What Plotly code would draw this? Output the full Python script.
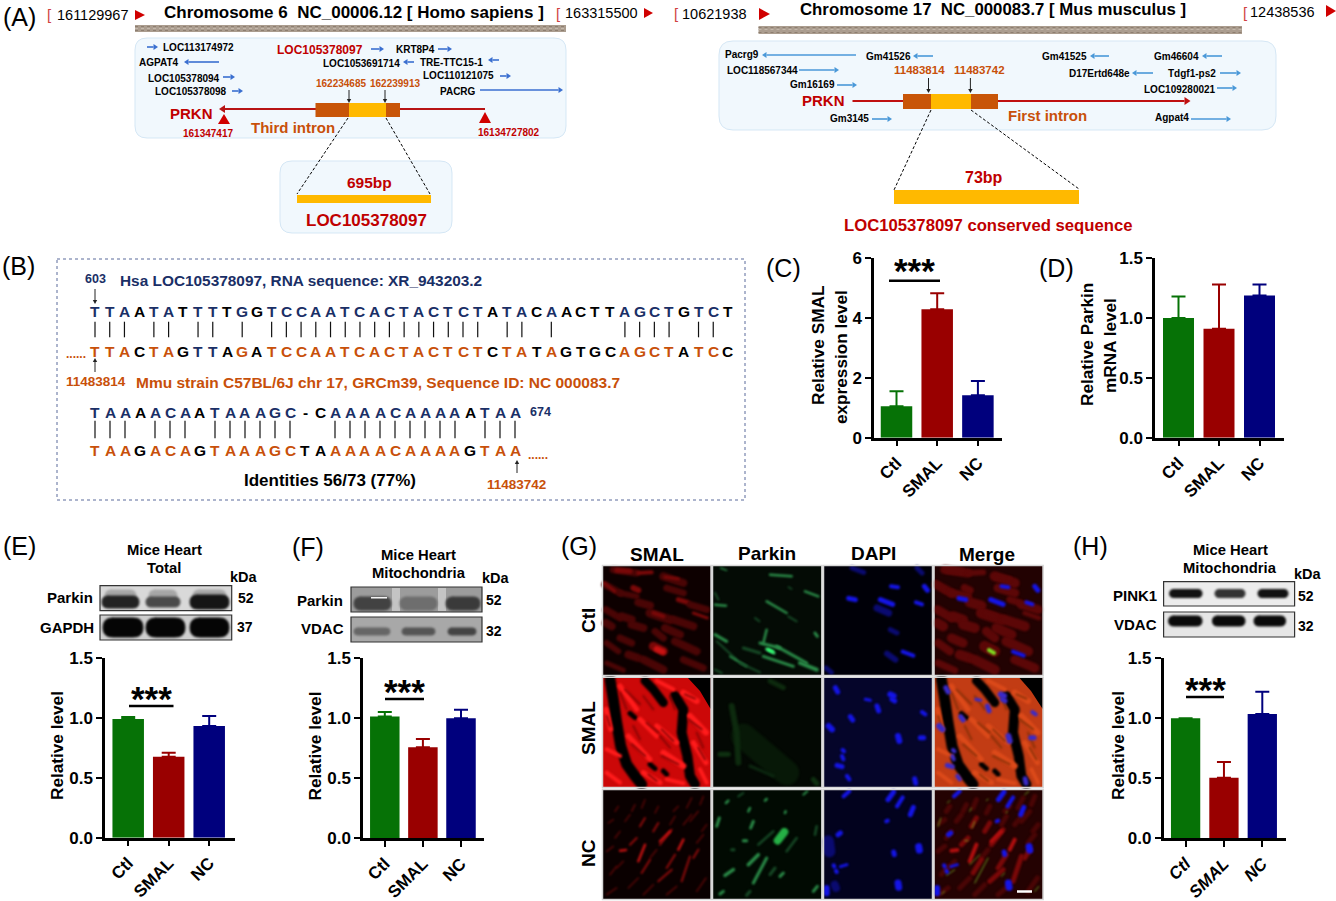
import json
import plotly.graph_objects as go

W, H = 1336, 901
FONT = "Liberation Sans"
GREEN, RED, NAVY = "#067206", "#990000", "#00007d"
DKRED, ORANGE, BLOCK, GOLD = "#c00000", "#c8500a", "#c85508", "#ffb900"
BLUE1, BLUE2, TXTNAVY = "#3a6fd0", "#4a98d8", "#1a2f66"

# ---------- bar chart data ----------
categories = ["Ctl", "SMAL", "NC"]
c_values = [1.05, 4.30, 1.42]
c_errors = [0.50, 0.53, 0.48]
d_values = [1.00, 0.91, 1.19]
d_errors = [0.18, 0.37, 0.09]
e_values = [0.99, 0.675, 0.93]
e_errors = [0.015, 0.033, 0.085]
f_values = [1.015, 0.758, 1.00]
f_errors = [0.038, 0.07, 0.072]
h_values = [1.00, 0.505, 1.035]
h_errors = [0.0, 0.13, 0.187]
bar_colors = [GREEN, RED, NAVY]
ticks_c = [0, 2, 4, 6]
ticks_rel = [0.0, 0.5, 1.0, 1.5]

# ---------- sequence alignment ----------
seq1_top = "TTAATATTTTGGTCCAATCACTACTCTATACAACTTAGCTGTCT"
seq1_bot = "TTACTAGTTAGATCCAATCACTACTCTCTATAGTGCAGCTATCC"
seq2_top = "TAAAACAATAAAGC-CAAAACAAAAATAA"
seq2_bot = "TAAGACAGTAAAGCTAAAAACAAAAGTAA"

# ---------- gene neighbourhood labels: text, x0, x1, y, arrow x0, arrow x1, arrow y ----------
genes_h = [
    ("LOC113174972", 162, 234, 48, 147, 158, 47),
    ("KRT8P4", 396, 434, 50, 438, 452, 49),
    ("AGPAT4", 139, 179, 62, 219, 184, 62),
    ("LOC1053691714", 322, 401, 63, 414, 403, 62),
    ("TRE-TTC15-1", 420, 483, 62, 499, 488, 60),
    ("LOC105378094", 148, 220, 78, 223, 235, 77),
    ("LOC110121075", 422, 494, 76, 500, 511, 76),
    ("LOC105378098", 155, 227, 92, 232, 243, 91),
    ("PACRG", 440, 476, 92, 480, 563, 90),
]
genes_m = [
    ("Pacrg9", 725, 758, 54, 856, 762, 55),
    ("Gm41526", 866, 910, 56, 933, 913, 56),
    ("Gm41525", 1042, 1086, 56, 1109, 1090, 56),
    ("Gm46604", 1154, 1199, 57, 1222, 1202, 56),
    ("LOC118567344", 727, 798, 70, 799, 839, 70),
    ("D17Ertd648e", 1070, 1129, 73, 1153, 1132, 73),
    ("Tdgf1-ps2", 1168, 1216, 73, 1220, 1241, 73),
    ("Gm16169", 790, 834, 85, 837, 857, 85),
    ("LOC109280021", 1144, 1215, 89, 1217, 1237, 88),
    ("Gm3145", 830, 869, 119, 872, 892, 119),
    ("Agpat4", 1155, 1188, 118, 1191, 1231, 119),
]

shapes, annos, soft = [], [], []


def X(x):
    return x / W


def Y(y):
    return 1 - y / H


def T(x, y, text, size, color="black", bold=True, anchor="center", angle=0, style="normal"):
    annos.append(dict(x=X(x), y=Y(y), xref="paper", yref="paper", text=text, showarrow=False,
                      xanchor=anchor, yanchor="middle", textangle=angle, align="center",
                      font=dict(family=FONT, size=size, color=color, style=style,
                                weight="bold" if bold else "normal")))


def line(x0, y0, x1, y1, color="black", width=1.0, dash=None):
    shapes.append(dict(type="line", xref="paper", yref="paper", x0=X(x0), y0=Y(y0), x1=X(x1), y1=Y(y1),
                       line=dict(color=color, width=width, dash=dash)))


def rect(x0, y0, x1, y1, fill, border=None, bw=0):
    shapes.append(dict(type="rect", xref="paper", yref="paper", x0=X(x0), y0=Y(y0), x1=X(x1), y1=Y(y1),
                       fillcolor=fill, line=dict(color=border or fill, width=bw)))


def poly(pts, fill):
    p = "M" + " L".join(f"{X(a):.5f},{Y(b):.5f}" for a, b in pts) + " Z"
    shapes.append(dict(type="path", xref="paper", yref="paper", path=p, fillcolor=fill, line=dict(width=0)))


def pline(pts, color, width):
    p = "M" + " L".join(f"{X(a):.5f},{Y(b):.5f}" for a, b in pts)
    soft.append(len(shapes))
    shapes.append(dict(type="path", xref="paper", yref="paper", path=p, line=dict(color=color, width=width)))


def rbox(x0, y0, x1, y1, r, fill, border, op=1.0):
    def f(a, b):
        return f"{X(a):.5f},{Y(b):.5f}"
    p = (f"M{f(x0+r,y0)} L{f(x1-r,y0)} Q{f(x1,y0)} {f(x1,y0+r)} L{f(x1,y1-r)} Q{f(x1,y1)} {f(x1-r,y1)} "
         f"L{f(x0+r,y1)} Q{f(x0,y1)} {f(x0,y1-r)} L{f(x0,y0+r)} Q{f(x0,y0)} {f(x0+r,y0)} Z")
    shapes.append(dict(type="path", xref="paper", yref="paper", path=p, fillcolor=fill, opacity=op,
                       line=dict(color=border, width=1)))


def band(x0, y0, x1, y1, fill, op=1.0):
    soft.append(len(shapes))
    rbox(x0, y0, x1, y1, (y1 - y0) / 2, fill, fill, op)


def harrow(x0, x1, y, color, width=1.6, head=4.5):
    d = 1 if x1 > x0 else -1
    line(x0, y, x1 - d * head, y, color, width)
    poly([(x1, y), (x1 - d * head, y - head * 0.65), (x1 - d * head, y + head * 0.65)], color)


def varrow(x, y0, y1, color="#222", width=1.0, head=4):
    d = 1 if y1 > y0 else -1
    line(x, y0, x, y1 - d * head, color, width)
    poly([(x, y1), (x - 2.2, y1 - d * head), (x + 2.2, y1 - d * head)], color)


def tri_right(x0, x1, y, h=5):
    poly([(x0, y - h), (x0, y + h), (x1, y)], "#d00000")


def speckle(x0, x1, y0, y1):
    rect(x0, y0, x1, y1, "#ab9d8f")
    for yy, col in ((y0 + 1.5, "#8d7e70"), (y0 + 3.5, "#c4b8ac"), (y1 - 1.5, "#8d7e70")):
        line(x0, yy, x1, yy, col, 1.2, "dot")


DASH = "3px,2px"
# ================== panel A left ==================
T(19, 17, "(A)", 25, bold=False)
T(50, 15, "[", 15, "#d04040", bold=False)
T(92.5, 15, "161129967", 14.5, bold=False)
tri_right(135, 145, 15)
T(354, 12, "Chromosome 6  NC_00006.12 [ Homo sapiens ]", 17)
T(558, 14, "[", 15, "#d04040", bold=False)
T(601, 13, "163315500", 14.5, bold=False)
tri_right(644, 653, 13)
speckle(135, 566, 25, 32)
rbox(135, 38, 566, 138, 12, "#f1f8fd", "#d5e7f5")
for g in genes_h:
    T((g[1] + g[2]) / 2, g[3], g[0], 10)
    harrow(g[4], g[5], g[6], BLUE1)
T(319.5, 50, "LOC105378097", 12, DKRED)
harrow(371, 384, 49, BLUE1)
T(341, 84, "162234685", 10, ORANGE)
T(394.5, 84, "162239913", 10, ORANGE)
varrow(349, 90, 103)
varrow(385, 90, 103)
T(191, 113, "PRKN", 15, DKRED)
harrow(316, 219, 109, "#b81414", 2, 6)
line(399, 109, 485, 109, "#b81414", 2)
rect(315.5, 103, 400, 117, BLOCK)
rect(349, 103, 386, 117, GOLD)
poly([(224, 114), (218, 124), (230, 124)], "#d00000")
poly([(485, 112), (479, 123), (491, 123)], "#d00000")
T(207.5, 133, "161347417", 10, DKRED)
T(508.5, 132, "16134727802", 10, DKRED)
T(293, 128, "Third intron", 15, ORANGE)
rbox(280, 161, 452, 233, 12, "#f1f8fd", "#d5e7f5")
line(348, 118, 297, 194, "black", 1, DASH)
line(386, 118, 430, 194, "black", 1, DASH)
T(369, 182, "695bp", 15.5, DKRED)
rect(297, 195, 431, 203, GOLD)
T(366, 221, "LOC105378097", 17, DKRED)

# ================== panel A right ==================
T(676, 14, "[", 15, "#d04040", bold=False)
T(714, 14, "10621938", 14.5, bold=False)
tri_right(759, 770, 14, 6)
T(993, 9, "Chromosome 17  NC_000083.7 [ Mus musculus ]", 16.8)
T(1245, 12, "[", 15, "#d04040", bold=False)
T(1282, 12, "12438536", 14.5, bold=False)
tri_right(1326, 1336, 11, 6)
speckle(758.5, 1242, 26, 34)
rbox(719, 41, 1276, 130, 14, "#f1f8fd", "#d5e7f5")
for g in genes_m:
    T((g[1] + g[2]) / 2, g[3], g[0], 10)
    harrow(g[4], g[5], g[6], BLUE2)
T(919.5, 70, "11483814", 11.5, ORANGE)
T(979.5, 70, "11483742", 11.5, ORANGE)
varrow(928.5, 78, 93)
varrow(970.4, 78, 93)
T(823, 101, "PRKN", 15, DKRED)
line(852.5, 101, 903, 101, "#c01010", 2)
harrow(998, 1190.5, 101, "#c01010", 2, 6)
rect(903, 94, 998, 109, BLOCK)
rect(931, 94, 971, 109, GOLD)
T(1047, 116, "First intron", 15, ORANGE)
line(931, 110, 894, 190, "black", 1, DASH)
line(971, 110, 1079, 189, "black", 1, DASH)
T(984, 177, "73bp", 16, DKRED)
rect(894, 190, 1079, 204, GOLD)
T(988.5, 225, "LOC105378097 conserved sequence", 16.7, DKRED)

# ================== panel B ==================
T(18, 266, "(B)", 25, bold=False)
shapes.append(dict(type="rect", xref="paper", yref="paper", x0=X(57), y0=Y(259), x1=X(745), y1=Y(500),
                   line=dict(color="#5b6b9b", width=1, dash="dot")))
T(95, 279, "603", 12.5, TXTNAVY)
T(301, 280, "Hsa LOC105378097, RNA sequence: XR_943203.2", 15.4, TXTNAVY)
varrow(95, 289, 304)


def align(top, bot, x0, dx, yt, yb, b0, b1):
    for i, (a, b) in enumerate(zip(top, bot)):
        x = x0 + i * dx
        m = a == b
        T(x, yt, a, 15.5, TXTNAVY if m else "black")
        col = ORANGE if m else "black"
        if top is seq1_top and i in (7, 8):
            col = TXTNAVY
        T(x, yb, b, 15.5, col)
        if m:
            line(x, b0, x, b1, "#111", 1.2)


align(seq1_top, seq1_bot, 95, 14.72, 311.7, 351, 321.7, 337.3)
T(76, 354, "......", 12, ORANGE)
varrow(95, 372, 358)
T(96, 381, "11483814", 13.5, ORANGE)
T(378, 382, "Mmu strain C57BL/6J chr 17, GRCm39, Sequence ID: NC 000083.7", 15.5, ORANGE)
align(seq2_top, seq2_bot, 95, 15.0, 412.3, 450.7, 420.7, 438.3)
T(540, 412, "674", 12.5, TXTNAVY)
T(538, 455, "......", 12, ORANGE)
varrow(517, 473, 460)
T(516, 484, "11483742", 13.5, ORANGE)
T(329.5, 481, "Identities 56/73 (77%)", 17)

# ================== panel labels / blots ==================
T(783, 268, "(C)", 25, bold=False)
T(1056, 268, "(D)", 25, bold=False)
T(818, 346, "Relative SMAL", 17.2, angle=-90)
T(841, 357, "expression level", 17.2, angle=-90)
T(1087, 345, "Relative Parkin", 17.2, angle=-90)
T(1110, 346, "mRNA level", 17.2, angle=-90)
T(19, 546, "(E)", 25, bold=False)
T(308, 547, "(F)", 25, bold=False)
T(579, 546, "(G)", 25, bold=False)
T(1090, 546, "(H)", 25, bold=False)
T(57, 746, "Relative level", 17.2, angle=-90)
T(314.5, 746, "Relative level", 17.2, angle=-90)
T(1118, 746, "Relative level", 17.2, angle=-90)

T(164, 550, "Mice Heart", 14.8)
T(164, 568, "Total", 14.8)
T(244, 577, "kDa", 14.5)
T(95, 597, "Parkin", 15, anchor="right")
T(96, 627, "GAPDH", 15, anchor="right")
T(245.5, 598, "52", 14)
T(245, 627, "37", 14)
rect(100, 585.7, 231.7, 610.7, "#d9d9d9", "#333", 1.2)
rect(100, 615, 231.7, 640, "#cfcfcf", "#333", 1.2)
for a, b, h_, c in ((102, 139, 6, "#222"), (146, 180, 5, "#4a4a4a"), (190, 229, 7, "#151515")):
    band(a + 3, 590, b - 3, 602, "#9a9a9a", 0.8)
    band(a, 602 - h_, b, 602 + h_, c)
for a, b in ((103, 143), (146, 185), (190, 229)):
    band(a, 618, b, 637, "#050505")

T(418.5, 555, "Mice Heart", 14.8)
T(418.5, 573, "Mitochondria", 14.8)
T(495.5, 578, "kDa", 14.5)
T(345, 600, "Parkin", 15, anchor="right")
T(345.5, 628, "VDAC", 15, anchor="right")
T(494, 600, "52", 14)
T(494, 631, "32", 14)
rect(351, 587, 482, 612, "#9c9c9c", "#333", 1.2)
rect(351, 617, 482, 642, "#a8a8a8", "#333", 1.2)
rect(392, 588, 400, 611, "#c4c4c4")
rect(438, 588, 446, 611, "#c4c4c4")
for a, b, c in ((354, 391, "#333"), (400, 437, "#666"), (446, 480, "#2a2a2a")):
    band(a, 597, b, 610, c, 0.85)
rect(371, 597, 387, 598.5, "#f4f4f4")
for a, b, c in ((354, 390, "#666"), (402, 435, "#555"), (448, 476, "#444")):
    band(a, 628, b, 635, c)

T(1230, 550, "Mice Heart", 14.8)
T(1230, 568, "Mitochondria", 14.8)
T(1308, 574, "kDa", 14.5)
T(1158.6, 595, "PINK1", 15, anchor="right")
T(1158.6, 624, "VDAC", 15, anchor="right")
T(1306, 595.5, "52", 14)
T(1306, 626, "32", 14)
rect(1163.6, 581.7, 1294.6, 606, "#ececec", "#333", 1.2)
rect(1163.6, 612, 1294.6, 637, "#e6e6e6", "#333", 1.2)
for a, b, c in ((1169.6, 1202, "#111"), (1215, 1245, "#333"), (1258, 1288, "#111")):
    band(a, 589.5, b, 597.5, c)
for a, b in ((1168.6, 1202), (1212.5, 1245), (1254, 1285.5)):
    band(a, 616, b, 626, "#0a0a0a")

# ================== panel G micrographs ==================
T(657, 554, "SMAL", 19)
T(767, 553, "Parkin", 19)
T(873.4, 553, "DAPI", 19)
T(987, 554, "Merge", 19)
T(588, 621, "Ctl", 19, angle=-90)
T(588, 728, "SMAL", 19, angle=-90)
T(588, 853, "NC", 19, angle=-90)

r1, r2, r3 = "#4a0505", "#7a0808", "#c81212"
g1, g2, g3, g4 = "#164a26", "#2a8c48", "#3fd070", "#30ff70"
b1, b2 = "#1414e6", "#0a0a70"

img_r1c1 = [
    (r1, 7, [40, 20, 110, 30]), (r2, 5, [50, 22, 90, 25]), (r2, 4, [115, 30, 155, 28]), (r1, 8, [190, 40, 250, 60]),
    (r2, 3, [195, 42, 235, 48]), (r1, 7, [15, 65, 60, 90]), (r2, 3, [12, 60, 45, 85]), (r2, 6, [100, 75, 115, 82]),
    (r1, 6, [60, 90, 110, 100]), (r1, 7, [200, 75, 250, 90]), (r1, 8, [115, 118, 150, 128]), (r2, 5, [235, 110, 262, 118]),
    (r1, 7, [270, 125, 320, 140]), (r1, 7, [18, 140, 60, 165]), (r1, 8, [65, 160, 95, 170]), (r1, 9, [150, 150, 210, 170]),
    (r2, 4, [160, 150, 190, 160]), (r1, 8, [220, 170, 280, 190]), (r1, 8, [18, 180, 35, 190]), (r1, 8, [95, 185, 130, 195]),
    (r1, 7, [165, 205, 190, 225]), (r1, 8, [195, 195, 240, 215]), (r1, 7, [60, 225, 95, 240]), (r1, 8, [225, 235, 290, 265]),
    (r2, 9, [160, 250, 190, 265]), (r3, 6, [170, 258, 188, 266]), (r1, 8, [85, 275, 115, 285]), (r1, 8, [130, 290, 190, 320]),
    (r1, 6, [20, 240, 55, 265]), (r1, 7, [250, 290, 310, 315]), (r1, 5, [20, 300, 70, 322]), (r2, 3, [280, 150, 322, 165]),
]
img_r1c2 = [
    (g2, 2.5, [510, 35, 575, 40]), (g2, 1.5, [362, 15, 380, 22]), (g2, 2.5, [615, 85, 655, 100]), (g2, 2.5, [345, 125, 378, 128]),
    (g1, 2, [345, 90, 355, 110]), (g2, 2.5, [500, 115, 560, 150]), (g1, 2, [565, 160, 590, 175]), (g1, 2, [465, 165, 478, 175]),
    (g2, 3, [345, 215, 380, 235]), (g1, 2, [350, 235, 410, 290]), (g2, 2, [390, 280, 440, 310]), (g1, 3, [430, 255, 480, 270]),
    (g2, 2.5, [490, 240, 500, 200]), (g2, 3, [480, 240, 540, 255]), (g2, 3, [490, 280, 580, 310]), (g2, 3, [530, 250, 620, 300]),
    (g2, 4, [600, 300, 650, 320]), (g3, 3, [500, 258, 522, 270]), (g4, 3, [505, 260, 518, 266]), (g2, 3, [645, 210, 652, 220]),
    (g1, 2, [420, 300, 480, 328]), (g1, 2, [345, 320, 365, 330]), (g1, 1.5, [565, 72, 575, 78]),
]
img_r1c3 = [
    (b1, 4, [207, 70, 228, 73]), (b1, 5, [80, 106, 100, 110]), (b1, 5, [175, 110, 212, 124]), (b1, 4, [282, 118, 300, 124]),
    (b1, 5, [307, 70, 316, 82]), (b1, 4, [242, 266, 274, 278]), (b2, 5, [90, 15, 125, 28]), (b2, 5, [285, 15, 300, 30]),
    (b2, 7, [165, 135, 200, 150]), (b2, 6, [195, 272, 220, 290]), (b2, 5, [12, 315, 28, 328]), (b2, 5, [205, 200, 225, 210]),
]
img_r2_gaps = [
    (11, [30, 10, 40, 70, 50, 140, 62, 210, 80, 265, 105, 300, 125, 325]),
    (9, [135, 14, 160, 40, 190, 80]),
    (10, [225, 60, 250, 100, 245, 170, 262, 240, 270, 300, 285, 325]),
    (5, [90, 112, 105, 125]), (5, [150, 265, 165, 278]), (5, [190, 285, 200, 295]),
]
img_r2_bright = [
    (5, [60, 30, 110, 100]), (4, [170, 14, 220, 40]), (6, [250, 50, 290, 75]), (6, [270, 120, 318, 170]),
    (5, [18, 100, 32, 160]), (5, [120, 130, 170, 180]), (5, [170, 150, 230, 200]), (6, [190, 230, 250, 270]),
    (5, [85, 180, 150, 250]), (5, [280, 200, 318, 260]), (4, [20, 220, 60, 240]), (5, [130, 290, 180, 320]),
    (4, [20, 290, 60, 320]), (4, [200, 310, 250, 322]), (4, [300, 280, 320, 320]),
]
img_r2_dark = [
    (2, [130, 60, 160, 100]), (2, [180, 180, 210, 215]), (2, [210, 60, 225, 100]), (2, [100, 150, 120, 190]),
    (2, [60, 50, 80, 100]), (2, [290, 170, 310, 215]), (2, [75, 40, 120, 85]), (2, [140, 140, 175, 170]),
    (2, [185, 240, 235, 265]), (2, [95, 205, 135, 240]), (2, [20, 120, 30, 150]), (2, [265, 130, 305, 160]),
    (2, [255, 55, 285, 68]), (2, [185, 160, 220, 195]), (2, [145, 295, 170, 315]), (2, [295, 215, 315, 250]),
]
img_r2c2 = [
    ("#071807", 25, [430, 180, 560, 290]), ("#0d2a0e", 6, [395, 90, 410, 170, 415, 260]), ("#0d2a0e", 5, [510, 15, 550, 35]),
    ("#0e3010", 5, [360, 235, 385, 235]), ("#0e3010", 5, [640, 310, 650, 322]), ("#0c2810", 3, [450, 270, 520, 300]),
]
img_r2c3 = [
    (5, [40, 35, 47, 48]), (6, [205, 55, 215, 60]), (5, [210, 70, 218, 75]), (5, [165, 90, 170, 105]), (3, [130, 70, 145, 73]),
    (4, [300, 108, 310, 115]), (5, [85, 122, 92, 132]), (6, [20, 150, 30, 160]), (6, [228, 180, 232, 195]), (5, [295, 185, 305, 185]),
    (4, [62, 222, 66, 226]), (4, [60, 240, 64, 250]), (5, [45, 268, 60, 272]), (5, [278, 308, 281, 322]), (4, [75, 300, 82, 310]),
]
img_r3_dim = [
    [45, 70, 55, 55], [125, 60, 135, 35], [95, 70, 105, 50], [165, 75, 175, 55], [220, 70, 235, 55], [260, 60, 275, 30],
    [300, 50, 310, 25], [25, 105, 40, 95], [75, 100, 90, 80], [210, 110, 225, 85], [250, 110, 275, 80], [305, 130, 320, 110],
    [45, 150, 60, 130], [290, 165, 310, 140], [20, 190, 40, 175], [150, 210, 170, 185], [50, 240, 70, 220], [85, 300, 115, 270],
    [20, 320, 50, 300], [130, 320, 160, 290], [200, 320, 230, 295], [290, 310, 318, 270], [30, 260, 50, 235], [270, 100, 295, 70],
]
img_r3_mid = [
    [120, 115, 135, 90], [90, 170, 110, 150], [180, 170, 215, 125], [125, 255, 150, 215], [175, 280, 215, 245],
    [245, 280, 270, 205], [160, 130, 175, 105], [280, 210, 295, 185], [200, 240, 225, 200],
]
img_r3_bright = [[115, 220, 135, 170], [235, 185, 250, 155], [60, 188, 78, 186], [180, 160, 210, 130]]
img_r3c2 = [
    (g2, 2.5, [378, 45, 385, 38]), (g2, 3, [350, 115, 358, 90]), (g2, 2.5, [445, 70, 450, 60]), (g2, 3, [452, 120, 460, 100]),
    (g2, 3, [430, 158, 440, 158]), (g2, 2.5, [555, 75, 557, 70]), (g2, 2.5, [495, 38, 500, 33]), (g2, 2, [610, 20, 622, 10]),
    ("#25b045", 8, [533, 158, 553, 132]), (g1, 2, [415, 25, 430, 15]), (g2, 3.5, [445, 230, 475, 200]), (g2, 3, [460, 285, 500, 210]),
    (g2, 3.5, [375, 262, 400, 245]), (g2, 3, [540, 265, 550, 255]), (g2, 3, [640, 310, 652, 295]), (g2, 3, [360, 318, 370, 310]),
    (g1, 2.5, [475, 170, 520, 130]), (g1, 2.5, [560, 190, 590, 150]), (g1, 2.5, [645, 140, 650, 115]), (g1, 3, [395, 185, 402, 185]),
    (g1, 3, [510, 260, 525, 240]), (g1, 3, [440, 322, 450, 310]),
]
img_r3c3 = [
    (b1, 4, [65, 25, 82, 10]), (b1, 5, [198, 35, 215, 12]), (b1, 4, [225, 55, 242, 28]), (b1, 5, [265, 80, 274, 58]),
    (b1, 4, [193, 100, 197, 98]), (b1, 5, [48, 140, 55, 135]), (b1, 7, [290, 176, 292, 186]), (b1, 5, [215, 192, 217, 200]),
    (b1, 4, [35, 232, 37, 236]), (b1, 3, [55, 236, 75, 230]), (b1, 4, [42, 248, 44, 252]), (b1, 7, [228, 285, 230, 298]),
    (b1, 6, [14, 300, 14, 316]), (b2, 12, [18, 160, 22, 190]), (b2, 8, [38, 290, 42, 300]),
]


def draw(list3, ox, oy, dx=0.0):
    for col, w, c in list3:
        pts = [(ox + c[i] / 3 + dx, oy + c[i + 1] / 3) for i in range(0, len(c), 2)]
        pline(pts, col, w)


col_x = [(603, 710.7), (713, 821.5), (824, 932), (934.4, 1042.7)]
row_y = [(566, 675), (677.7, 787), (790, 899)]
# row 1
rect(603, 566, 710.7, 675, "#0d0000")
draw(img_r1c1, 600, 563)
rect(713, 566, 821.5, 675, "#040b05")
draw(img_r1c2, 600, 563)
rect(824, 566, 932, 675, "#000008")
draw(img_r1c3, 822, 563)
rect(934.4, 566, 1042.7, 675, "#220202")
draw([("#5c0707", w + 2, c) for col, w, c in img_r1c1], 600, 563, 331.4)
draw([(b1, w, c) for col, w, c in img_r1c3 if col == b1], 822, 563, 110.4)
pline([(989, 650), (994, 653)], "#7fe020", 4)
# row 2
rect(603, 677.7, 710.7, 787, "#cc0808")
poly([(688, 678), (710.7, 678), (710.7, 709), (700, 691)], "#000")
for w, c in img_r2_gaps:
    draw([("#000", w, c)], 600, 676)
for w, c in img_r2_bright:
    draw([("#ff1c1c", w, c)], 600, 676)
for w, c in img_r2_dark:
    draw([("#8a0404", w, c)], 600, 676)
rect(713, 677.7, 821.5, 787, "#030803")
draw(img_r2c2, 600, 676)
rect(824, 677.7, 932, 787, "#05052a")
draw([(b1, w, c) for w, c in img_r2c3], 822, 676)
rect(934.4, 677.7, 1042.7, 787, "#c23c14")
poly([(1019.5, 678), (1042.7, 678), (1042.7, 709), (1031, 691)], "#000")
for w, c in img_r2_gaps:
    draw([("#000", w, c)], 600, 676, 331.4)
for w, c in img_r2_bright:
    draw([("#dc4a1a", w, c)], 600, 676, 331.4)
for w, c in img_r2_dark:
    draw([("#8a3008", w, c)], 600, 676, 331.4)
draw([("#3a2ac8", w, c) for w, c in img_r2c3], 822, 676, 110.4)
# row 3
rect(603, 790, 710.7, 899, "#0a0000")
draw([("#5a0606", 1.5, c) for c in img_r3_dim] + [("#8e0a0a", 2, c) for c in img_r3_mid] +
     [("#c01010", 2.5, c) for c in img_r3_bright], 600, 788)
rect(713, 790, 821.5, 899, "#010a02")
draw(img_r3c2, 600, 788)
rect(824, 790, 932, 899, "#02021e")
draw(img_r3c3, 822, 788)
rect(934.4, 790, 1042.7, 899, "#240202")
draw([("#4a0505", 5, c) for c in img_r3_dim] + [("#7a0808", 5, c) for c in img_r3_mid] +
     [("#b00e0e", 4, c) for c in img_r3_bright], 600, 788, 331.4)
draw([("#70a020", 1, c) for col, w, c in img_r3c2 if col == g2], 600, 788, 221.4)
draw([(b1, w, c) for col, w, c in img_r3c3 if col == b1], 822, 788, 110.4)
line(1017, 891.5, 1032, 891.5, "white", 2.5)
for a, b in col_x:
    for c, d in row_y:
        shapes.append(dict(type="rect", xref="paper", yref="paper", x0=X(a - 0.5), y0=Y(c - 0.5), x1=X(b + 0.5), y1=Y(d + 0.5),
                           line=dict(color="#d8d8d8", width=1.5)))

# ================== bar charts ==================
fig = go.Figure()
panels = [
    dict(v=c_values, e=c_errors, ax=874, end=1002, c0=896.5, s=40.7, w=31.5, y0=437.7, y1=258.3, ymax=6, ticks=ticks_c,
         fmt="{:.0f}", sig=(889, 940, 280.7), star=268),
    dict(v=d_values, e=d_errors, ax=1155, end=1284, c0=1178.5, s=40.5, w=31, y0=437.7, y1=258.3, ymax=1.5, ticks=ticks_rel,
         fmt="{:.1f}", sig=None),
    dict(v=e_values, e=e_errors, ax=105, end=234.5, c0=128.2, s=40.5, w=31.5, y0=837.7, y1=657.7, ymax=1.5, ticks=ticks_rel,
         fmt="{:.1f}", sig=(129, 173.5, 706), star=695),
    dict(v=f_values, e=f_errors, ax=363, end=484, c0=384.8, s=38.1, w=29.5, y0=838.3, y1=658.3, ymax=1.5, ticks=ticks_rel,
         fmt="{:.1f}", sig=(385, 424, 699), star=688),
    dict(v=h_values, e=h_errors, ax=1163.6, end=1285.5, c0=1185.6, s=38.35, w=29.3, y0=838.3, y1=658.3, ymax=1.5, ticks=ticks_rel,
         fmt="{:.1f}", sig=(1186, 1224, 697), star=686, italic=True),
]
layout_axes = {}
for k, p in enumerate(panels):
    n = "" if k == 0 else str(k + 1)
    for i, cat in enumerate(categories):
        fig.add_trace(go.Bar(
            x=[i], y=[p["v"][i]], width=p["w"] / p["s"], marker=dict(color=bar_colors[i], line=dict(width=0)),
            error_y=dict(type="data", symmetric=False, array=[p["e"][i]], arrayminus=[0], color=bar_colors[i],
                         thickness=2, width=7),
            xaxis="x" + n, yaxis="y" + n, showlegend=False, name=cat, hoverinfo="skip"))
    layout_axes["xaxis" + n] = dict(
        domain=[X(p["ax"]), X(p["end"])], anchor="y" + n,
        range=[(p["ax"] - p["c0"]) / p["s"], (p["end"] - p["c0"]) / p["s"]],
        tickmode="array", tickvals=[0, 1, 2], ticktext=categories, tickangle=-45,
        ticks="outside", ticklen=6, tickwidth=2, tickcolor="black", showline=True, linewidth=2.5, linecolor="black",
        showgrid=False, zeroline=False,
        tickfont=dict(family=FONT, size=17, color="black", weight="bold", style="italic" if p.get("italic") else "normal"))
    layout_axes["yaxis" + n] = dict(
        domain=[Y(p["y0"]), Y(p["y1"])], anchor="x" + n, range=[0, p["ymax"]],
        tickmode="array", tickvals=p["ticks"], ticktext=[p["fmt"].format(t) for t in p["ticks"]],
        ticks="outside", ticklen=6, tickwidth=2, tickcolor="black", showline=True, linewidth=2.5, linecolor="black",
        showgrid=False, zeroline=False, tickfont=dict(family=FONT, size=17, color="black", weight="bold"))
    if p["sig"]:
        a, b, yy = p["sig"]
        line(a, yy, b, yy, "black", 2.5)
        T((a + b) / 2, p["star"] + 3, "***", 35)

fig.update_layout(
    width=W, height=H, margin=dict(l=0, r=0, t=0, b=0, autoexpand=False), paper_bgcolor="white",
    plot_bgcolor="rgba(0,0,0,0)", barmode="overlay", showlegend=False, shapes=shapes, annotations=annos,
    font=dict(family=FONT), **layout_axes)

js = ("document.body.style.margin='0';document.documentElement.style.overflow='hidden';"
      "var S=new Set(" + json.dumps(soft) + ");"
      "document.querySelectorAll('.shapelayer path').forEach(function(p){"
      "if(S.has(+p.getAttribute('data-index'))){p.style.strokeLinecap='round';p.style.strokeLinejoin='round';"
      "p.style.filter='blur(1.3px)';}});")
fig.write_html("out.html", config=dict(displayModeBar=False), post_script=js)
